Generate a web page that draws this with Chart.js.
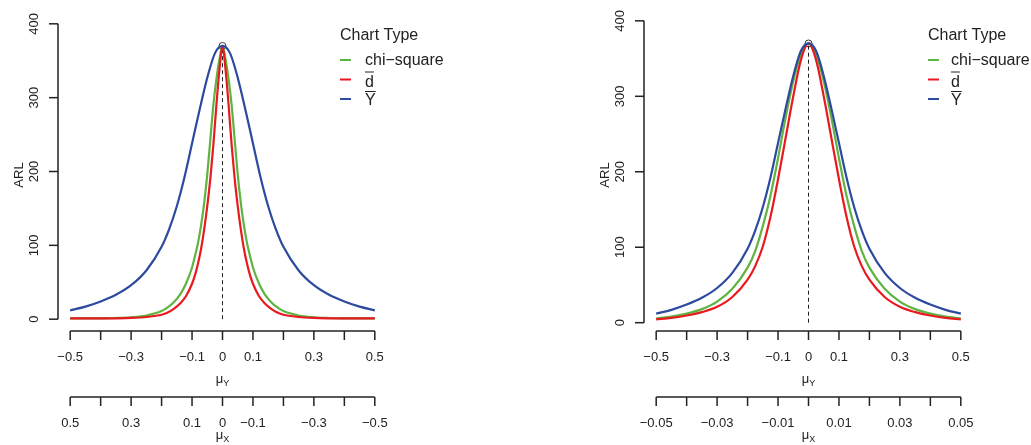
<!DOCTYPE html>
<html lang="en">
<head>
<meta charset="UTF-8">
<title>ARL curves</title>
<script src="https://cdn.jsdelivr.net/npm/chart.js"></script>
<style>
  body { margin: 0; background: #fff; }
  .panel { position: absolute; top: 0; }
  #left { left: 0; }
  #right { left: 516px; }
</style>
</head>
<body>
<canvas id="left" class="panel" width="516" height="445"></canvas>
<canvas id="right" class="panel" width="515" height="445"></canvas>
<script>
// mu_Y grid for the narrow curves of the first panel
const muFine = [-0.5, -0.45, -0.4, -0.35, -0.3, -0.25, -0.2, -0.18, -0.16, -0.14, -0.12, -0.1, -0.09, -0.08, -0.07, -0.06, -0.05, -0.04, -0.03, -0.02, -0.01,
  0, 0.01, 0.02, 0.03, 0.04, 0.05, 0.06, 0.07, 0.08, 0.09, 0.1, 0.12, 0.14, 0.16, 0.18, 0.2, 0.25, 0.3, 0.35, 0.4, 0.45, 0.5];
const chiLeft = [1, 1.05, 1.2, 1.6, 2.6, 5, 11, 16, 23, 33, 48, 70, 86, 104, 128, 158, 196, 243, 290, 325, 352,
  370, 352, 325, 290, 243, 196, 158, 128, 104, 86, 70, 48, 33, 23, 16, 11, 5, 2.6, 1.6, 1.2, 1.05, 1];
const dbarLeft = [1, 1, 1.05, 1.2, 1.7, 3, 6, 9, 14, 21, 31, 48, 60, 76, 96, 122, 153, 190, 236, 290, 338,
  370, 338, 290, 236, 190, 153, 122, 96, 76, 60, 48, 31, 21, 14, 9, 6, 3, 1.7, 1.2, 1.05, 1, 1];

// mu_Y grid for the wider curves
const muCoarse = [-0.5, -0.45, -0.4, -0.35, -0.3, -0.25, -0.2, -0.175, -0.15, -0.125, -0.1, -0.075, -0.05, -0.025,
  0, 0.025, 0.05, 0.075, 0.1, 0.125, 0.15, 0.175, 0.2, 0.25, 0.3, 0.35, 0.4, 0.45, 0.5];
const ybar = [12, 17, 24, 33, 46, 66, 98, 122, 153, 192, 238, 284, 327, 360,
  370, 360, 327, 284, 238, 192, 153, 122, 98, 66, 46, 33, 24, 17, 12];
const chiRight = [5.5, 8, 12, 18, 28, 45, 73, 95, 128, 168, 218, 272, 320, 356,
  370, 356, 320, 272, 218, 168, 128, 95, 73, 45, 28, 18, 12, 8, 5.5];
const dbarRight = [4.5, 6.5, 9.5, 14, 21, 34, 57, 75, 101, 140, 190, 245, 300, 348,
  370, 348, 300, 245, 190, 140, 101, 75, 57, 34, 21, 14, 9.5, 6.5, 4.5];

const arl0 = 370;

// axis ticks and their labels ('' = tick without label)
const arlTicks = [0, 100, 200, 300, 400];
const muYTicks = [-0.5, -0.4, -0.3, -0.2, -0.1, 0, 0.1, 0.2, 0.3, 0.4, 0.5];
const muYLabels = ['−0.5', '', '−0.3', '', '−0.1', '0', '0.1', '', '0.3', '', '0.5'];
const muXTicksLeft = [-0.5, -0.4, -0.3, -0.2, -0.1, 0, 0.1, 0.2, 0.3, 0.4, 0.5];
const muXLabelsLeft = ['−0.5', '', '−0.3', '', '−0.1', '0', '0.1', '', '0.3', '', '0.5'];
const muXTicksRight = [-0.05, -0.04, -0.03, -0.02, -0.01, 0, 0.01, 0.02, 0.03, 0.04, 0.05];
const muXLabelsRight = ['−0.05', '', '−0.03', '', '−0.01', '', '0.01', '', '0.03', '', '0.05'];

const GREEN = '#5fb441';
const RED = '#e8191f';
const BLUE = '#2c4a9e';
const INK = '#222';
const FONT = '"Liberation Sans", Arial, Helvetica, sans-serif';

function curve(xs, ys, color) {
  return {
    data: xs.map((m, i) => ({ x: m, y: ys[i] })),
    borderColor: color,
    borderWidth: 2.2,
    pointRadius: 0,
    cubicInterpolationMode: 'monotone',
    fill: false
  };
}

function line(ctx, x1, y1, x2, y2) {
  ctx.beginPath();
  ctx.moveTo(x1, y1);
  ctx.lineTo(x2, y2);
  ctx.stroke();
}

// mu with a subscript letter, centred on cx
function muLabel(ctx, cx, base, sub) {
  ctx.font = '13px ' + FONT;
  const w1 = ctx.measureText('μ').width;
  ctx.font = '9px ' + FONT;
  const w2 = ctx.measureText(sub).width;
  const x0 = cx - (w1 + w2) / 2;
  ctx.textAlign = 'left';
  ctx.font = '13px ' + FONT;
  ctx.fillText('μ', x0, base);
  ctx.font = '9px ' + FONT;
  ctx.fillText(sub, x0 + w1, base + 3);
}

function bottomAxis(ctx, scale, y0, ticks, labels) {
  const xa = scale.getPixelForValue(ticks[0]);
  const xb = scale.getPixelForValue(ticks[ticks.length - 1]);
  line(ctx, Math.min(xa, xb), y0, Math.max(xa, xb), y0);
  ctx.font = '13px ' + FONT;
  ctx.textAlign = 'center';
  ctx.textBaseline = 'alphabetic';
  ticks.forEach((v, i) => {
    const px = scale.getPixelForValue(v);
    line(ctx, px, y0, px, y0 + 9);
    if (labels[i]) ctx.fillText(labels[i], px, y0 + 30);
  });
}

// R style axes and legend, drawn from the chart's own scales
const rAxes = {
  id: 'rAxes',
  afterDraw(chart, args, o) {
    const { ctx, chartArea: a, scales } = chart;
    const x = scales.x, y = scales.y, x2 = scales.x2;
    ctx.save();
    ctx.strokeStyle = INK;
    ctx.fillStyle = INK;
    ctx.lineWidth = 1.5;

    // ARL axis
    const ax = a.left;
    line(ctx, ax, y.getPixelForValue(arlTicks[0]), ax, y.getPixelForValue(arlTicks[arlTicks.length - 1]));
    ctx.font = '13px ' + FONT;
    ctx.textAlign = 'center';
    ctx.textBaseline = 'alphabetic';
    arlTicks.forEach(v => {
      const py = y.getPixelForValue(v);
      line(ctx, ax - 9, py, ax, py);
      ctx.save();
      ctx.translate(ax - 20, py);
      ctx.rotate(-Math.PI / 2);
      ctx.fillText(String(v), 0, 0);
      ctx.restore();
    });
    ctx.save();
    ctx.translate(ax - 35.5, o.arlY);
    ctx.rotate(-Math.PI / 2);
    ctx.fillText('ARL', 0, 0);
    ctx.restore();

    // mu_Y axis on the plot edge, mu_X axis underneath
    const y1 = a.bottom;
    bottomAxis(ctx, x, y1, muYTicks, muYLabels);
    muLabel(ctx, x.getPixelForValue(0), y1 + 52, 'Y');
    const y2 = y1 + 66;
    bottomAxis(ctx, x2, y2, o.xTicks, o.xLabels);
    muLabel(ctx, x2.getPixelForValue(0), y2 + 42, 'X');

    // legend
    ctx.textAlign = 'left';
    ctx.font = '16px ' + FONT;
    ctx.fillText('Chart Type', o.legendX, 40);
    const rows = [
      { text: 'chi−square', color: GREEN, seg: 60, base: 65, bar: false },
      { text: 'd', color: RED, seg: 79.5, base: 87, bar: true },
      { text: 'Y', color: BLUE, seg: 99, base: 105, bar: true }
    ];
    rows.forEach(r => {
      ctx.strokeStyle = r.color;
      ctx.lineWidth = 2;
      line(ctx, o.legendX, r.seg, o.legendX + 11, r.seg);
      ctx.fillStyle = INK;
      ctx.fillText(r.text, o.textX, r.base);
      if (r.bar) {
        const w = ctx.measureText(r.text).width;
        ctx.strokeStyle = INK;
        ctx.lineWidth = 1;
        const top = r.base - (r.text === 'd' ? 15 : 13.5);
        line(ctx, o.textX, top, o.textX + w, top);
      }
    });
    ctx.restore();
  }
};

function makePanel(id, cfg) {
  new Chart(document.getElementById(id), {
    type: 'line',
    data: {
      datasets: [
        curve(muCoarse, ybar, BLUE),
        curve(cfg.redX, cfg.red, RED),
        curve(cfg.greenX, cfg.green, GREEN),
        {
          data: [{ x: 0, y: 0 }, { x: 0, y: arl0 }],
          borderColor: INK,
          borderWidth: 1,
          borderDash: [4, 3],
          pointRadius: 0
        },
        {
          data: [{ x: 0, y: arl0 }],
          showLine: false,
          pointRadius: 3.5,
          pointBorderWidth: 1,
          pointBorderColor: '#333',
          pointBackgroundColor: 'rgba(0,0,0,0)'
        }
      ]
    },
    options: {
      responsive: false,
      animation: false,
      events: [],
      layout: { padding: cfg.padding },
      scales: {
        x: { type: 'linear', display: false, min: -0.54, max: 0.54 },
        x2: { type: 'linear', axis: 'x', display: false, min: cfg.x2min, max: cfg.x2max, reverse: cfg.x2reverse },
        y: { type: 'linear', display: false, min: cfg.ymin, max: cfg.ymax }
      },
      plugins: {
        legend: { display: false },
        tooltip: { enabled: false },
        rAxes: {
          xTicks: cfg.xTicks, xLabels: cfg.xLabels,
          legendX: cfg.legendX, textX: cfg.textX, arlY: cfg.arlY
        }
      }
    },
    plugins: [rAxes]
  });
}

makePanel('left', {
  greenX: muFine, green: chiLeft, redX: muFine, red: dbarLeft,
  padding: { left: 58, right: 129, top: 12, bottom: 114 },
  ymin: -16, ymax: 416,
  x2min: -0.54, x2max: 0.54, x2reverse: true,
  xTicks: muXTicksLeft, xLabels: muXLabelsLeft,
  legendX: 340, textX: 365, arlY: 175
});

makePanel('right', {
  greenX: muCoarse, green: chiRight, redX: muCoarse, red: dbarRight,
  padding: { left: 128, right: 58, top: 8, bottom: 114 },
  ymin: -11, ymax: 417,
  x2min: -0.054, x2max: 0.054, x2reverse: false,
  xTicks: muXTicksRight, xLabels: muXLabelsRight,
  legendX: 412, textX: 435, arlY: 175
});
</script>
</body>
</html>
